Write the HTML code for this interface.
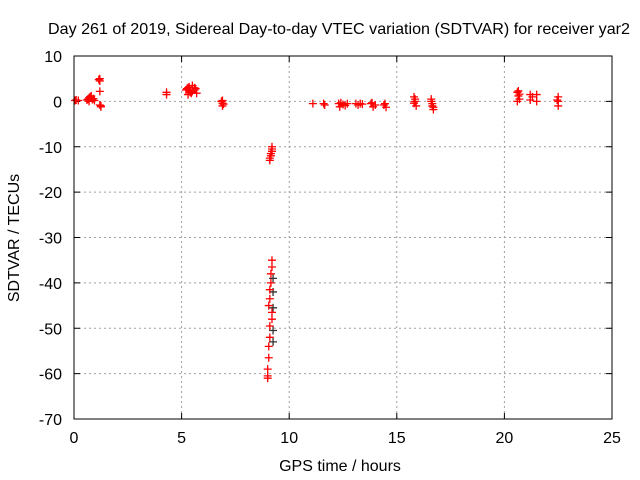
<!DOCTYPE html>
<html><head><meta charset="utf-8"><style>
body{margin:0;background:#fff;}
svg{display:block;font-family:"Liberation Sans",sans-serif;}
</style></head><body>
<svg id="chart" width="640" height="480">
<rect width="640" height="480" fill="#fff"/>
<text x="339" y="34" font-size="16" text-anchor="middle" textLength="582" lengthAdjust="spacingAndGlyphs">Day 261 of 2019, Sidereal Day-to-day VTEC variation (SDTVAR) for receiver yar2</text>
<text x="340" y="471" font-size="16" text-anchor="middle">GPS time / hours</text>
<text x="19" y="238" font-size="16" text-anchor="middle" transform="rotate(-90 19 238)">SDTVAR / TECUs</text>
<g id="grid"></g><g id="ticks"></g><g id="pts"></g>
<rect x="74" y="56" width="538" height="363" fill="none" stroke="#000" stroke-width="1"/>
</svg>
<script>
const xTicks=[0,5,10,15,20,25];
const yTicks=[10,0,-10,-20,-30,-40,-50,-60,-70];
const redHours=[0.05,0.1,0.2,0.6,0.7,0.8,0.9,0.7,0.85,0.75,0.95,0.65,1.2,1.2,1.2,1.2,1.25,1.15,1.25,4.3,4.3,5.2,5.3,5.4,5.5,5.6,5.7,5.3,5.6,5.5,5.25,5.45,5.65,5.35,6.9,6.9,6.9,6.95,6.85,
9.2,9.2,9.2,9.15,9.15,9.1,9.1,
9.2,9.2,9.15,9.15,9.1,9.1,9.05,9.2,9.2,9.1,9.1,9.05,9.05,9.0,9.0,9.0,
11.1,11.6,11.65,12.3,12.35,12.5,12.7,12.4,12.6,13.1,13.3,13.4,13.2,13.8,13.9,14.0,13.85,14.4,14.5,14.45,15.8,15.85,15.9,15.85,15.8,16.6,16.65,16.7,16.65,16.6,16.7,
20.6,20.65,20.7,20.6,20.7,20.65,21.2,21.2,21.5,21.5,21.3,22.5,22.5,22.5,22.45];
const redValues=[0.2,0.3,0.2,0.3,0.8,1.2,0.6,0,0.4,1,0.2,0.5,5,4.5,2.2,-0.8,-1.2,4.8,-1,1.5,2,2.5,3,2,3.5,2.5,1.8,1.5,3,2.2,2.8,1.8,2.8,3.2,0.2,-0.4,-1,-0.6,0,
-10,-10.5,-11,-11.5,-12,-12.5,-13,
-35,-36.5,-38,-40,-41.5,-43.5,-45,-46.5,-48,-49.5,-52,-54,-56.5,-59,-61,-60.5,
-0.5,-0.5,-0.8,-0.5,-1.2,-0.7,-0.5,-0.3,-0.9,-0.5,-0.5,-0.6,-0.8,-0.5,-1.2,-0.8,-0.3,-0.8,-1.3,-0.5,1,0,-1,0.5,-0.4,0.5,-0.5,-1.8,-1,0,-1.3,
2,1.2,0.5,0,1.6,2.3,1.5,0.3,1.5,0,1,1,0,-1,0.3];
const darkHours=[9.25,9.25,9.25,9.25,9.25];
const darkValues=[-39,-42,-45.5,-50.5,-53];
const X=h=>74+h*538/25, Y=v=>56+(10-v)*363/80;
const ns="http://www.w3.org/2000/svg";
function mk(t,a,p){const e=document.createElementNS(ns,t);for(const k in a)e.setAttribute(k,a[k]);p.appendChild(e);return e;}
const grid=document.getElementById('grid'),ticks=document.getElementById('ticks'),pts=document.getElementById('pts');
xTicks.forEach(t=>{const x=X(t);
 if(t>0&&t<25){const l=mk('line',{x1:x,x2:x,y1:56,y2:419,stroke:'#a0a0a0','stroke-dasharray':'2,3'},grid);
 
 }
 mk('line',{x1:x,x2:x,y1:419,y2:413,stroke:'#000'},ticks);mk('line',{x1:x,x2:x,y1:56,y2:62,stroke:'#000'},ticks);
 const tx=mk('text',{x:x,y:443,'font-size':16,'text-anchor':'middle'},ticks);tx.textContent=t;
 
 });
yTicks.forEach(t=>{const y=Y(t);
 if(t<10&&t>-70){const l=mk('line',{x1:74,x2:612,y1:y,y2:y,stroke:'#a0a0a0','stroke-dasharray':'2,3'},grid);
 
 }
 mk('line',{x1:74,x2:80,y1:y,y2:y,stroke:'#000'},ticks);mk('line',{x1:612,x2:606,y1:y,y2:y,stroke:'#000'},ticks);
 const tx=mk('text',{x:62,y:y+6,'font-size':16,'text-anchor':'end'},ticks);tx.textContent=t;
 
 });
function cross(h,v,c){const x=X(h),y=Y(v);
 const g=mk('path',{d:`M${x-4},${y}H${x+4}M${x},${y-4}V${y+4}`,stroke:c,'stroke-width':1.3,fill:'none'},pts);
 
 }
darkHours.forEach((h,i)=>cross(h,darkValues[i],'#333'));
redHours.forEach((h,i)=>cross(h,redValues[i],'#ff0000'));
</script>
</body></html>
